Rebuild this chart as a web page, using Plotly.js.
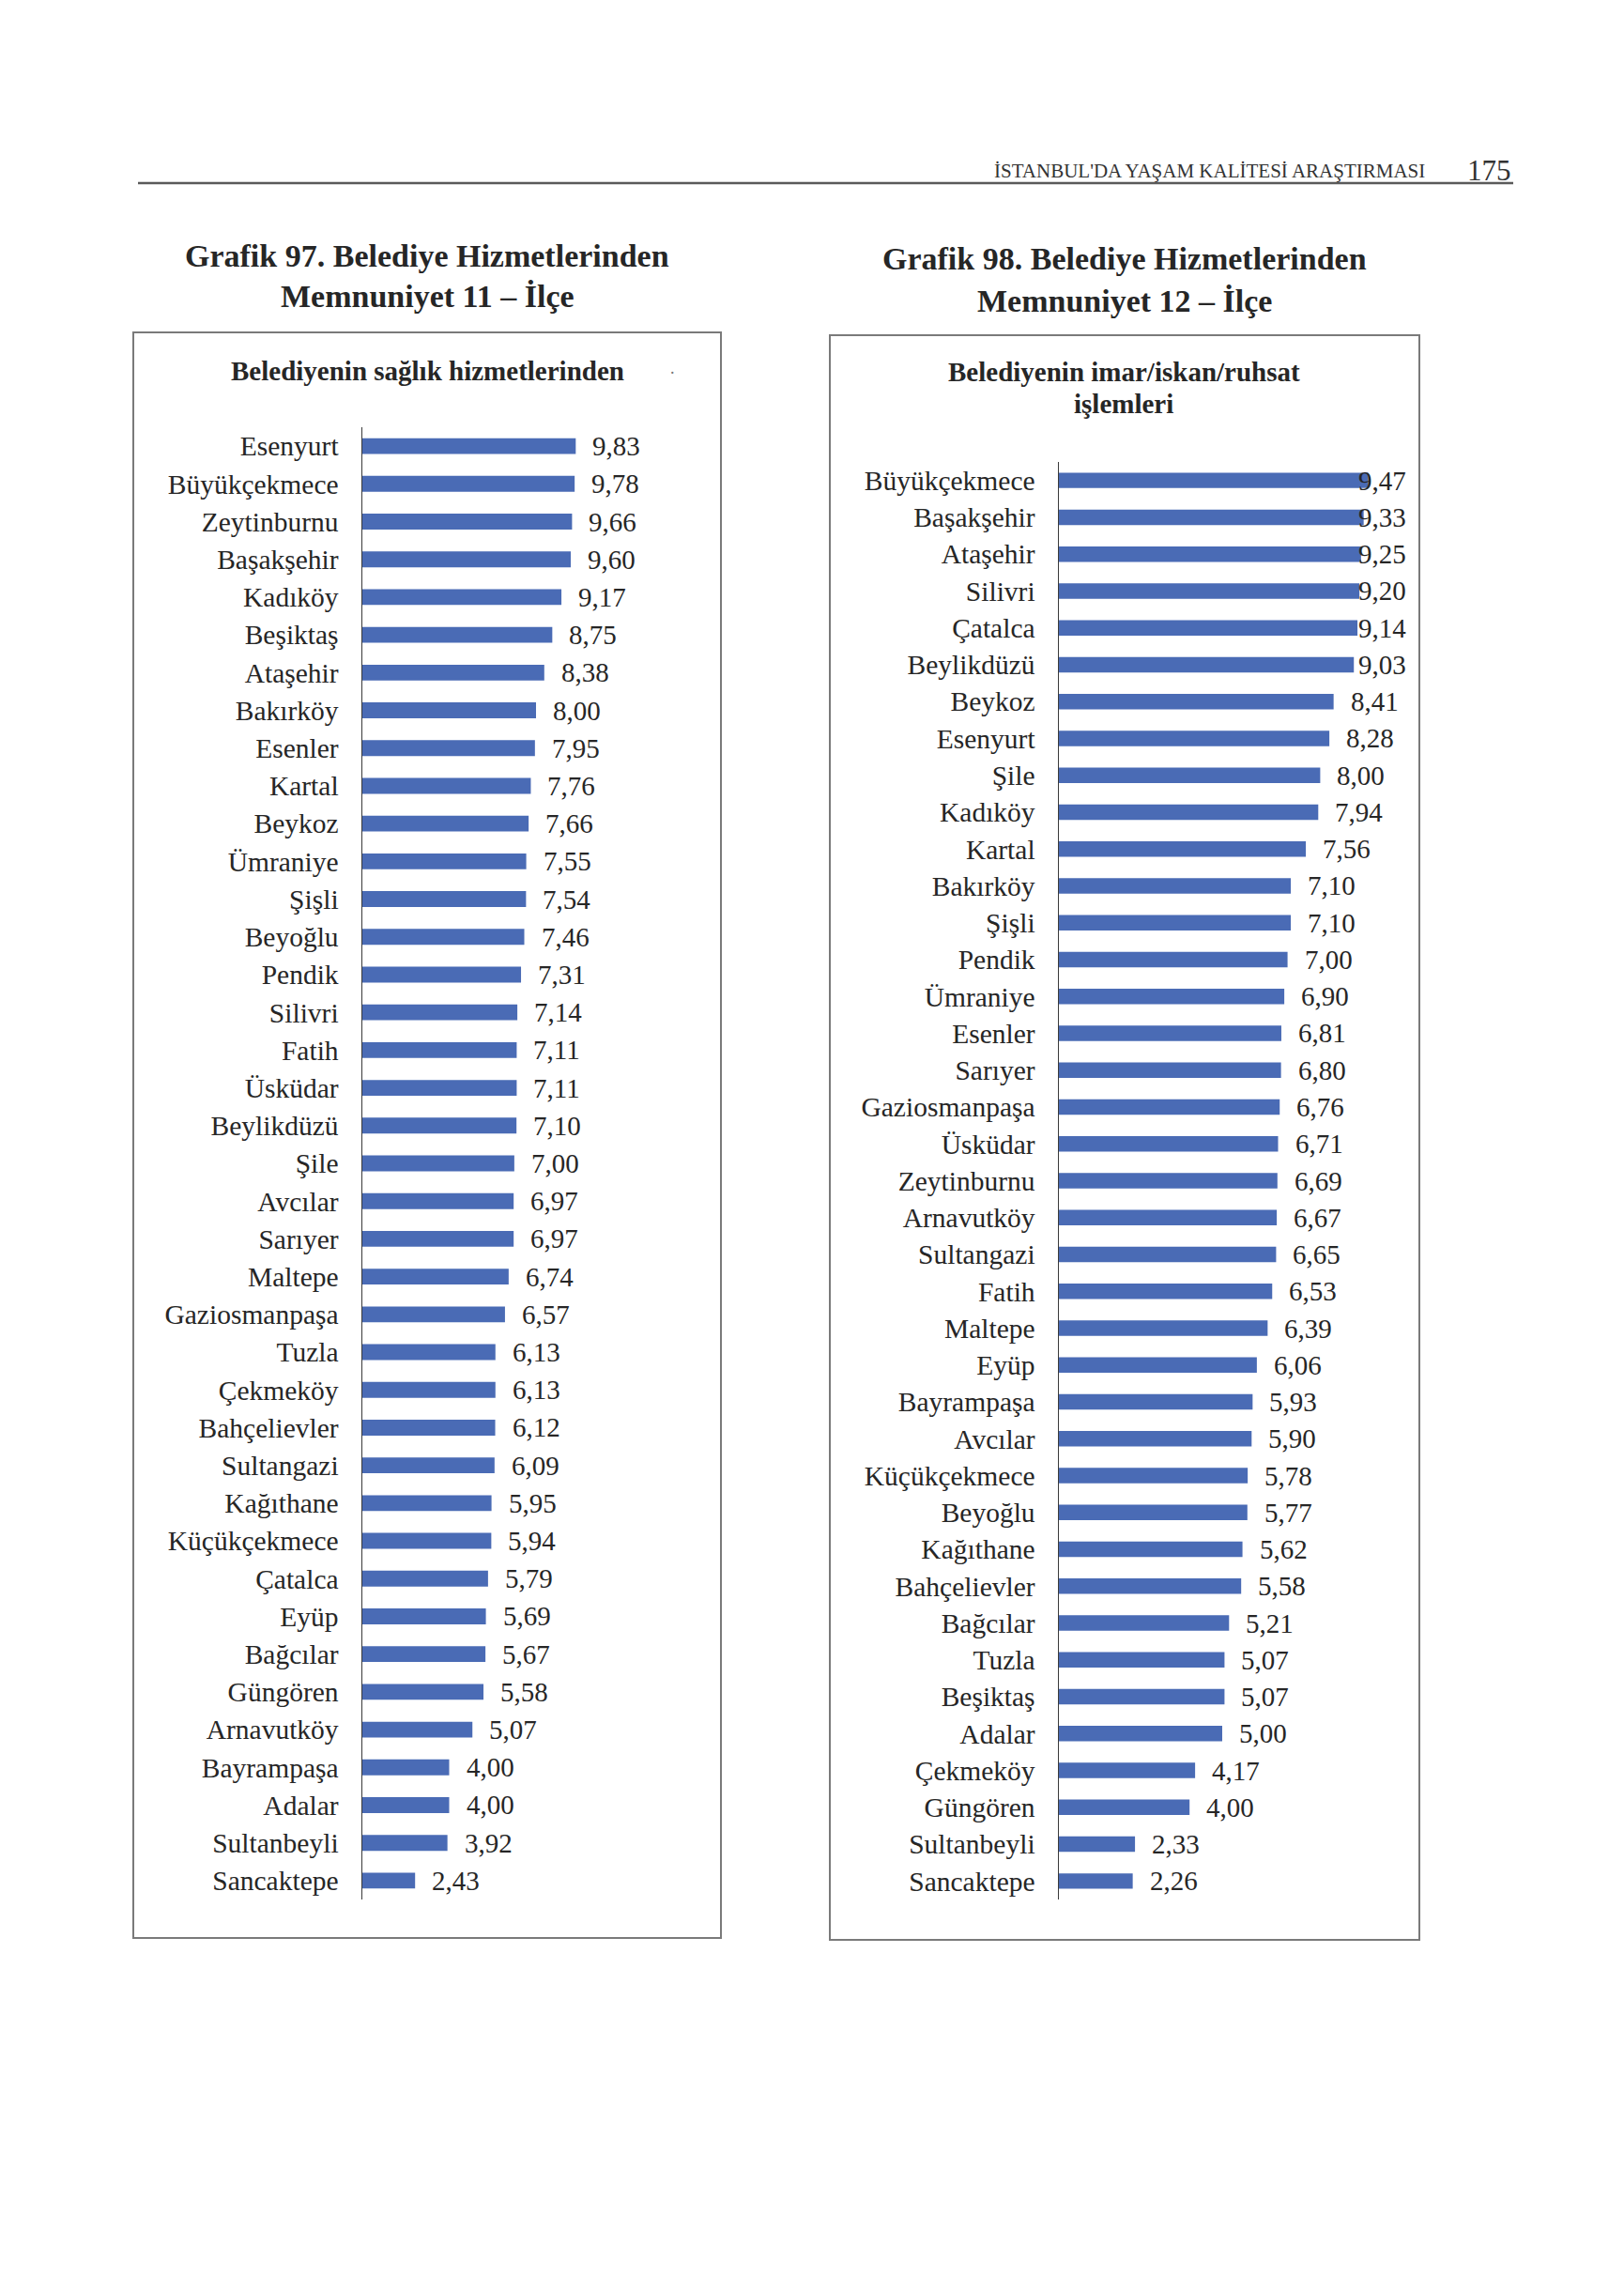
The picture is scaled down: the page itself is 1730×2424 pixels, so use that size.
<!DOCTYPE html>
<html>
<head>
<meta charset="utf-8">
<script src="https://cdn.plot.ly/plotly-3.0.1.min.js"></script>
<style>
  html, body { margin: 0; padding: 0; background: #ffffff; }
  #chart { width: 1730px; height: 2424px; }
</style>
</head>
<body>
<div id="chart"></div>
<script>
// ---------- DATA ----------
const districts1 = ["Esenyurt","Büyükçekmece","Zeytinburnu","Başakşehir","Kadıköy","Beşiktaş","Ataşehir","Bakırköy","Esenler","Kartal","Beykoz","Ümraniye","Şişli","Beyoğlu","Pendik","Silivri","Fatih","Üsküdar","Beylikdüzü","Şile","Avcılar","Sarıyer","Maltepe","Gaziosmanpaşa","Tuzla","Çekmeköy","Bahçelievler","Sultangazi","Kağıthane","Küçükçekmece","Çatalca","Eyüp","Bağcılar","Güngören","Arnavutköy","Bayrampaşa","Adalar","Sultanbeyli","Sancaktepe"];
const scores1 = [9.83,9.78,9.66,9.60,9.17,8.75,8.38,8.00,7.95,7.76,7.66,7.55,7.54,7.46,7.31,7.14,7.11,7.11,7.10,7.00,6.97,6.97,6.74,6.57,6.13,6.13,6.12,6.09,5.95,5.94,5.79,5.69,5.67,5.58,5.07,4.00,4.00,3.92,2.43];

const districts2 = ["Büyükçekmece","Başakşehir","Ataşehir","Silivri","Çatalca","Beylikdüzü","Beykoz","Esenyurt","Şile","Kadıköy","Kartal","Bakırköy","Şişli","Pendik","Ümraniye","Esenler","Sarıyer","Gaziosmanpaşa","Üsküdar","Zeytinburnu","Arnavutköy","Sultangazi","Fatih","Maltepe","Eyüp","Bayrampaşa","Avcılar","Küçükçekmece","Beyoğlu","Kağıthane","Bahçelievler","Bağcılar","Tuzla","Beşiktaş","Adalar","Çekmeköy","Güngören","Sultanbeyli","Sancaktepe"];
const scores2 = [9.47,9.33,9.25,9.20,9.14,9.03,8.41,8.28,8.00,7.94,7.56,7.10,7.10,7.00,6.90,6.81,6.80,6.76,6.71,6.69,6.67,6.65,6.53,6.39,6.06,5.93,5.90,5.78,5.77,5.62,5.58,5.21,5.07,5.07,5.00,4.17,4.00,2.33,2.26];

const pageHeader = "İSTANBUL'DA YAŞAM KALİTESİ ARAŞTIRMASI";
const pageNumber = "175";
const title1 = ["Grafik 97. Belediye Hizmetlerinden", "Memnuniyet 11 – İlçe"];
const title2 = ["Grafik 98. Belediye Hizmetlerinden", "Memnuniyet 12 – İlçe"];
const sub1 = ["Belediyenin sağlık hizmetlerinden"];
const sub2 = ["Belediyenin imar/iskan/ruhsat", "işlemleri"];

// ---------- LAYOUT HELPERS ----------
const W = 1730, H = 2424;
const px = x => x / W;
const py = y => 1 - y / H;
const SERIF = "Liberation Serif, Times New Roman, serif";
const BAR = "#4a6bb5";
const TXT = "#262626";
const fmt = v => v.toFixed(2).replace('.', ',');

// chart geometry (pixels)
const g1 = {axisX: 386, rightX: 756, top: 455, bottom: 2023, range: 16.0};
const g2 = {axisX: 1128, rightX: 1500, top: 492, bottom: 2023, range: 10.69};

const traces = [
  {type: 'bar', orientation: 'h', x: scores1, y: districts1, xaxis: 'x', yaxis: 'y',
   marker: {color: BAR}, hoverinfo: 'skip'},
  {type: 'bar', orientation: 'h', x: scores2, y: districts2, xaxis: 'x2', yaxis: 'y2',
   marker: {color: BAR}, hoverinfo: 'skip'}
];

function yAxis(g, anchor) {
  return {
    type: 'category', anchor: anchor,
    domain: [py(g.bottom), py(g.top)],
    range: [38.5, -0.5],
    showline: true, linecolor: '#3a3a3a', linewidth: 1.5,
    ticks: '', showgrid: false, zeroline: false,
    ticklabelstandoff: 18,
    tickfont: {family: SERIF, size: 29.5, color: TXT},
    fixedrange: true
  };
}
function xAxis(g, anchor) {
  return {
    anchor: anchor, domain: [px(g.axisX), px(g.rightX)],
    range: [0, g.range], visible: false, fixedrange: true
  };
}

const annotations = [];
function valueLabels(cats, vals, g, xref, yref) {
  const ppu = (g.rightX - g.axisX) / g.range;
  const gap = 16, labelW = 54;
  cats.forEach((c, i) => {
    const v = vals[i];
    const fits = v * ppu + gap + labelW <= (g.rightX - g.axisX);
    annotations.push({
      xref: xref, yref: yref, x: fits ? v : g.range, y: c,
      xanchor: fits ? 'left' : 'right', yanchor: 'middle',
      xshift: fits ? gap : 0, yshift: 0,
      text: fmt(v), showarrow: false,
      font: {family: SERIF, size: 29, color: TXT}
    });
  });
}
valueLabels(districts1, scores1, g1, 'x', 'y');
valueLabels(districts2, scores2, g2, 'x2', 'y2');

function paperText(text, x, y, size, bold, anchor, color) {
  annotations.push({
    xref: 'paper', yref: 'paper', x: px(x), y: py(y),
    xanchor: anchor || 'center', yanchor: 'middle',
    text: bold ? '<b>' + text + '</b>' : text, showarrow: false,
    font: {family: SERIF, size: size, color: color || TXT}
  });
}
// page header
paperText(pageHeader, 1520, 182, 21, false, 'right', '#333');
paperText(pageNumber, 1586, 181, 31, false, 'center', '#333');
// main titles
paperText(title1[0], 455, 272, 34, true);
paperText(title1[1], 455, 316, 34, true);
paperText(title2[0], 1198, 275, 34, true);
paperText(title2[1], 1198, 320, 34, true);
// box subtitles
paperText(sub1[0], 455, 395, 29, true);
paperText('.', 716, 392, 18, false, 'center', '#777');
paperText(sub2[0], 1197, 396, 29, true);
paperText(sub2[1], 1197, 430, 29, true);

const shapes = [
  {type: 'line', xref: 'paper', yref: 'paper', x0: px(147), x1: px(1612), y0: py(195), y1: py(195),
   line: {color: '#5a5a5a', width: 2.5}},
  {type: 'rect', xref: 'paper', yref: 'paper', x0: px(142), x1: px(768), y0: py(2064), y1: py(354),
   line: {color: '#7a7a7a', width: 2}},
  {type: 'rect', xref: 'paper', yref: 'paper', x0: px(884), x1: px(1512), y0: py(2066), y1: py(357),
   line: {color: '#7a7a7a', width: 2}}
];

const layout = {
  width: W, height: H,
  margin: {l: 0, r: 0, t: 0, b: 0, pad: 0},
  paper_bgcolor: '#ffffff', plot_bgcolor: 'rgba(0,0,0,0)',
  showlegend: false,
  separators: ',.',
  bargap: 0.58,
  xaxis: xAxis(g1, 'y'), yaxis: yAxis(g1, 'x'),
  xaxis2: xAxis(g2, 'y2'), yaxis2: yAxis(g2, 'x2'),
  annotations: annotations, shapes: shapes,
  font: {family: SERIF, color: TXT}
};

Plotly.newPlot('chart', traces, layout, {staticPlot: true, displayModeBar: false});
</script>
</body>
</html>
